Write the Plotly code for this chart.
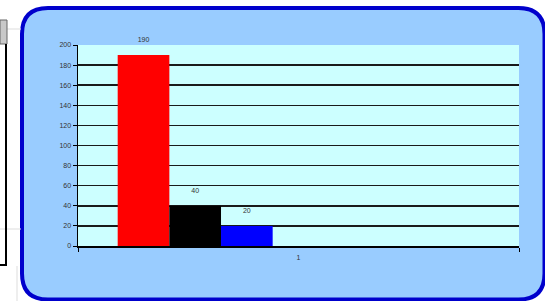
import plotly.graph_objects as go

# ---- data ----
categories = ["1"]
series_names = ["Series1", "Series2", "Series3", "Series4", "Series5", "Series6", "Series7"]
series_values = [190, 40, 20, None, None, None, None]
series_colors = ["#FF0000", "#000000", "#0000FF", "#99CCFF", "#99CCFF", "#99CCFF", "#99CCFF"]
y_ticks = [0, 20, 40, 60, 80, 100, 120, 140, 160, 180, 200]

W, H = 545, 301
L, R, T, B = 78, 519, 45, 246  # plot area in pixels


def px(x):
    return (x - L) / (R - L)


def py(y):
    return (B - y) / (B - T)


fig = go.Figure()
for name, val, col in zip(series_names, series_values, series_colors):
    fig.add_trace(go.Bar(
        x=categories, y=[val], name=name,
        marker=dict(color=col, line=dict(width=0)),
        text=[f"{val}<br> " if val is not None else ""],
        textposition="outside",
        textfont=dict(size=7, color="#333333", family="Liberation Sans, Arial"),
        cliponaxis=False,
        hoverinfo="skip",
    ))

# rounded chart-area rectangle
x0, x1, y0, y1, r = 22, 544.5, 8, 299.5, 26
rx, ry = r / (R - L), r / (B - T)
X0, X1, Y0, Y1 = px(x0), px(x1), py(y0), py(y1)
path = (f"M {X0+rx} {Y0} L {X1-rx} {Y0} Q {X1} {Y0} {X1} {Y0-ry} "
        f"L {X1} {Y1+ry} Q {X1} {Y1} {X1-rx} {Y1} "
        f"L {X0+rx} {Y1} Q {X0} {Y1} {X0} {Y1+ry} "
        f"L {X0} {Y0-ry} Q {X0} {Y0} {X0+rx} {Y0} Z")
shapes = [dict(type="path", xref="paper", yref="paper", path=path,
               fillcolor="#99CCFF", line=dict(color="#0000CC", width=4), layer="below"),
          dict(type="rect", xref="paper", yref="paper", x0=0, x1=1, y0=0, y1=1,
               fillcolor="#CCFFFF", line=dict(width=0), layer="below")]

# spreadsheet background decorations on the left
shapes += [
    dict(type="line", xref="paper", yref="paper", x0=px(0), x1=px(21), y0=py(29), y1=py(29),
         line=dict(color="#DDDDDD", width=1), layer="below"),
    dict(type="line", xref="paper", yref="paper", x0=px(0), x1=px(21), y0=py(229), y1=py(229),
         line=dict(color="#DDDDDD", width=1), layer="below"),
    dict(type="line", xref="paper", yref="paper", x0=px(17), x1=px(17), y0=py(266), y1=py(301),
         line=dict(color="#DDDDDD", width=1), layer="below"),
    dict(type="rect", xref="paper", yref="paper", x0=px(0), x1=px(7), y0=py(20), y1=py(44),
         fillcolor="#C8C8C8", line=dict(color="#666666", width=1), layer="below"),
    dict(type="line", xref="paper", yref="paper", x0=px(6), x1=px(6), y0=py(44), y1=py(265),
         line=dict(color="#000000", width=2), layer="below"),
    dict(type="line", xref="paper", yref="paper", x0=px(0), x1=px(7), y0=py(265), y1=py(265),
         line=dict(color="#000000", width=2), layer="below"),
]

fig.update_layout(
    width=W, height=H,
    margin=dict(l=L, r=W - R, t=T, b=H - B, pad=0),
    paper_bgcolor="#FFFFFF",
    plot_bgcolor="rgba(0,0,0,0)",
    barmode="group", bargap=0.18, bargroupgap=0,
    showlegend=False,
    hovermode=False,
    shapes=shapes,
    font=dict(family="Liberation Sans, Arial", size=7, color="#333333"),
    xaxis=dict(type="category", showgrid=False, showline=True, linecolor="#000000", linewidth=1.5,
               ticks="outside", ticklen=4, tickcolor="#000000", tickson="boundaries",
               ticklabelstandoff=4,
               tickfont=dict(size=7, color="#333333"), zeroline=False),
    yaxis=dict(range=[0, 200], tickvals=y_ticks, showgrid=True, gridcolor="#1a1a1a", gridwidth=1.5,
               showline=True, linecolor="#000000", linewidth=1.5, ticks="outside", ticklen=4,
               tickcolor="#000000", tickfont=dict(size=7, color="#333333"), zeroline=False),
)

fig.write_html("out.html", config={"displayModeBar": False, "staticPlot": True},
               post_script="document.body.style.margin='0';document.body.style.padding='0';")
